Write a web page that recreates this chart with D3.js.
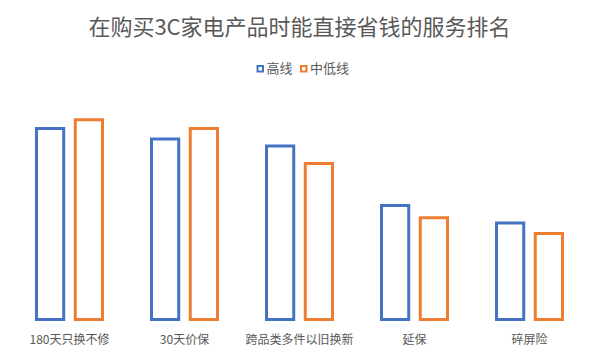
<!DOCTYPE html>
<html>
<head>
<meta charset="utf-8">
<script src="https://cdn.jsdelivr.net/npm/d3@7"></script>
<style>
  body { margin: 0; background: #fff; }
  text { font-family: "Noto Sans CJK SC", "Microsoft YaHei", sans-serif; }
</style>
</head>
<body>
<svg id="chart"></svg>
<script>
// services ranked by how much they save when buying 3C appliances
var categories = ["180天只换不修", "30天价保", "跨品类多件以旧换新", "延保", "碎屏险"];
var seriesNames = ["高线", "中低线"];
var highTier = [55, 52, 50, 33, 28];
var midLowTier = [57.5, 55, 45, 29.5, 25];
var colors = ["#4472C4", "#ED7D31"];

var width = 600, height = 355;

var svg = d3.select("#chart")
    .attr("width", width)
    .attr("height", height);

var data = categories.map(function(c, i) {
  return { cat: c, values: [highTier[i], midLowTier[i]] };
});

var x0 = d3.scaleBand()
    .domain(categories)
    .range([12, 587])
    .paddingInner(0.4)
    .paddingOuter(0.2);

var x1 = d3.scaleBand()
    .domain([0, 1])
    .range([0, x0.bandwidth()])
    .paddingInner(0.22);

var y = d3.scaleLinear()
    .domain([0, 60])
    .range([319.5, 109.5]);

// title
svg.append("text")
    .attr("x", 299.5)
    .attr("y", 35)
    .attr("text-anchor", "middle")
    .style("font-size", "22px")
    .style("fill", "#595959")
    .text("在购买3C家电产品时能直接省钱的服务排名");

// legend
var legend = svg.append("g")
    .attr("transform", "translate(256.5,65)");

var legendX = [0, 43.5];
seriesNames.forEach(function(name, i) {
  var g = legend.append("g").attr("transform", "translate(" + legendX[i] + ",0)");
  g.append("rect")
      .attr("x", 1)
      .attr("y", 1)
      .attr("width", 5.5)
      .attr("height", 5.5)
      .style("fill", "#fff")
      .style("stroke", colors[i])
      .style("stroke-width", 2);
  g.append("text")
      .attr("x", 10)
      .attr("y", 7.5)
      .style("font-size", "13px")
      .style("fill", "#595959")
      .text(name);
});

// bars
var groups = svg.append("g").selectAll(".group")
    .data(data)
  .enter().append("g")
    .attr("class", "group")
    .attr("transform", function(d) { return "translate(" + x0(d.cat) + ",0)"; });

groups.selectAll("rect")
    .data(function(d) { return d.values; })
  .enter().append("rect")
    .attr("x", function(d, i) { return x1(i) + 1.5; })
    .attr("width", x1.bandwidth() - 3)
    .attr("y", function(d) { return y(d) + 1.5; })
    .attr("height", function(d) { return y(0) - y(d) - 1.5; })
    .style("fill", "#fff")
    .style("stroke", function(d, i) { return colors[i]; })
    .style("stroke-width", 3);

// category labels
var xAxis = d3.axisBottom(x0).tickSize(0).tickPadding(0);
var ax = svg.append("g")
    .attr("transform", "translate(0,333)")
    .call(xAxis);
ax.select(".domain").remove();
ax.selectAll("text")
    .attr("dy", "0.9em")
    .style("font-family", "\"Noto Sans CJK SC\", sans-serif")
    .style("font-size", "12px")
    .style("fill", "#595959");
</script>
</body>
</html>
